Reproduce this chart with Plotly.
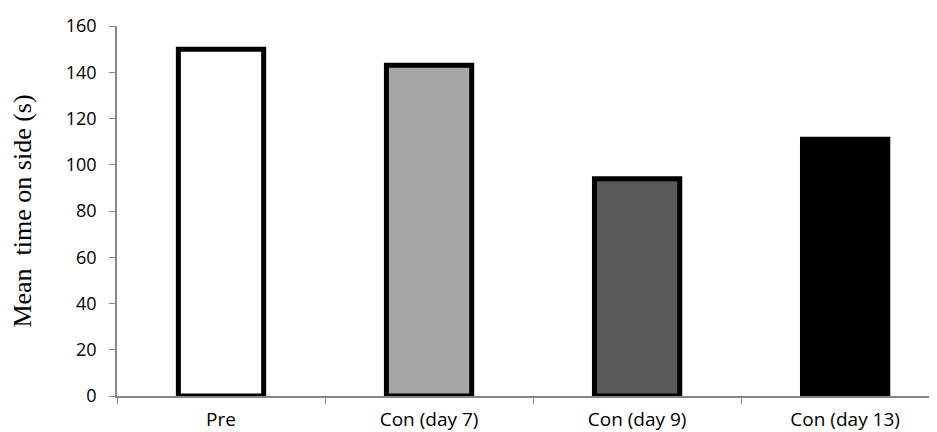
import plotly.graph_objects as go

categories = ["Pre", "Con (day 7)", "Con (day 9)", "Con (day 13)"]
values = [150, 143, 94, 111]
fills = ["#ffffff", "#a6a6a6", "#595959", "#000000"]
y_ticks = [0, 20, 40, 60, 80, 100, 120, 140, 160]

fig = go.Figure(go.Bar(
    x=list(range(len(categories))), y=values,
    width=0.41,
    marker=dict(color=fills, line=dict(color="#000000", width=5)),
))

axis_gray = "#868686"
fig.update_layout(
    width=937, height=432,
    margin=dict(l=109, r=0, t=18, b=44),
    paper_bgcolor="white", plot_bgcolor="white",
    showlegend=False,
    font=dict(family="Open Sans", size=15, color="#000000"),
)
fig.update_xaxes(
    automargin=False,
    range=[-0.5, 3.48],
    tickmode="array", tickvals=list(range(len(categories))), ticktext=categories,
    showline=True, linecolor=axis_gray, linewidth=1.5,
    showgrid=False, zeroline=False,
    ticks="", ticklen=6, tickcolor=axis_gray,
    ticklabelstandoff=5,
    tickfont=dict(family="Open Sans", size=19),
)
fig.update_xaxes(minor=dict(tickmode="array", tickvals=[-0.5, 0.5, 1.5, 2.5, 3.5],
                            ticks="outside", ticklen=6, tickcolor=axis_gray, showgrid=False))
fig.update_yaxes(
    automargin=False,
    range=[0, 160],
    tickmode="array", tickvals=y_ticks,
    showline=True, linecolor=axis_gray, linewidth=1.5,
    showgrid=False, zeroline=False,
    ticks="outside", ticklen=6, tickcolor=axis_gray,
    ticklabelstandoff=9,
    tickfont=dict(family="Open Sans", size=18),
    title=dict(text="Mean  time on side (s)", font=dict(family="Liberation Serif", size=26), standoff=31),
)

fig.write_html("out.html")
